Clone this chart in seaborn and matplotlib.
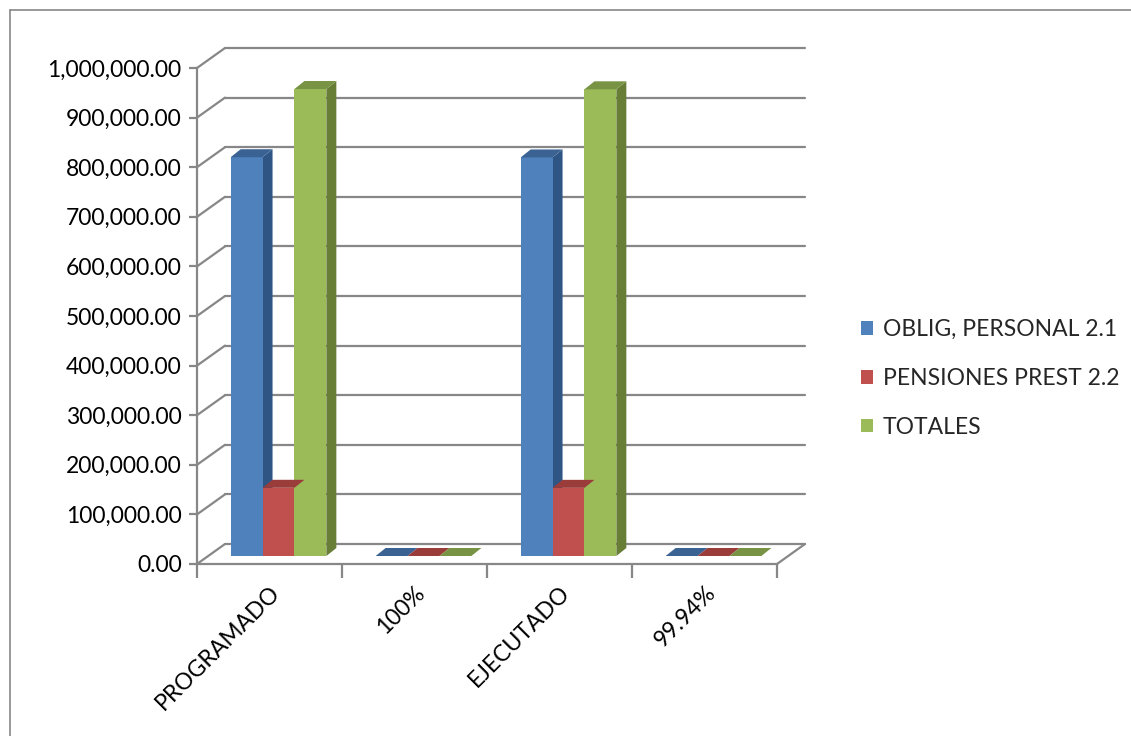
import numpy as np
import pandas as pd
import matplotlib
matplotlib.use("Agg")
import matplotlib.pyplot as plt
import matplotlib.transforms as mtransforms
from matplotlib.patches import Polygon
from matplotlib.lines import Line2D
import seaborn as sns

# datos
categorias = ["PROGRAMADO", "100%", "EJECUTADO", "99.94%"]
series = ["OBLIG, PERSONAL 2.1", "PENSIONES PREST 2.2", "TOTALES"]
oblig_personal = [804000, 1.0, 803500, 0.9994]
pensiones_prest = [137500, 1.0, 137400, 0.9994]
totales = [941500, 1.0, 940900, 0.9994]
yticks = np.arange(0, 1000001, 100000)

colores = ["#4F81BD", "#C0504D", "#9BBB59"]
lados = ["#2F5584", "#8C3836", "#687D35"]
techos = ["#3A6394", "#9A3D3A", "#779343"]
gris = "#878787"

df = pd.DataFrame({
    "cat": categorias * 3,
    "serie": np.repeat(series, 4),
    "val": oblig_personal + pensiones_prest + totales,
})

sns.set_theme(style="white")
plt.rcParams["font.family"] = ["Lato", "DejaVu Sans"]

fig = plt.figure(figsize=(11.31, 7.36), dpi=100)
ax = fig.add_axes([197 / 1131, 1 - 564 / 736, 580 / 1131, 496 / 736])

sns.barplot(data=df, x="cat", y="val", hue="serie", palette=colores,
            width=0.66, ax=ax, saturation=1, linewidth=0, zorder=3)
ax.set_xlim(-0.5, 3.5)
ax.set_ylim(0, 1000000)


def linea_diag(x, y):
    # linea de perspectiva desde el frente hacia la pared del fondo
    p0 = ax.transData.transform((x, y))
    ax.add_line(Line2D([p0[0], p0[0] + 28], [p0[1], p0[1] + 20], color=gris,
                       lw=1.6, transform=None, zorder=1, clip_on=False))


# pared del fondo con perspectiva (desplazamiento en pixeles)
fondo = mtransforms.offset_copy(ax.transData, fig, x=28, y=20, units="dots")
for v in yticks:
    ax.plot([-0.5, 3.5], [v, v], color=gris, lw=1.6, transform=fondo,
            clip_on=False, zorder=1)
    linea_diag(-0.5, v)
linea_diag(3.5, 0)

# caras laterales y superiores de las barras
frente = (9, 8)
atras = (19, 16)
handles, labels = ax.get_legend_handles_labels()
for k, cont in enumerate(ax.containers):
    for p in cont:
        x0, w, h = p.get_x(), p.get_width(), p.get_height()
        p.set_transform(mtransforms.offset_copy(ax.transData, fig, x=frente[0],
                                                y=frente[1], units="dots"))
        p.set_clip_on(False)
        a = ax.transData.transform((x0, h))
        b = ax.transData.transform((x0 + w, h))
        c = ax.transData.transform((x0 + w, 0))
        techo = [(a[0] + frente[0], a[1] + frente[1]), (b[0] + frente[0], b[1] + frente[1]),
                 (b[0] + atras[0], b[1] + atras[1]), (a[0] + atras[0], a[1] + atras[1])]
        lado = [(b[0] + frente[0], b[1] + frente[1]), (c[0] + frente[0], c[1] + frente[1]),
                (c[0] + atras[0], c[1] + atras[1]), (b[0] + atras[0], b[1] + atras[1])]
        ax.add_patch(Polygon(lado, closed=True, fc=lados[k], ec="none",
                             transform=None, zorder=2, clip_on=False))
        ax.add_patch(Polygon(techo, closed=True, fc=techos[k], ec="none",
                             transform=None, zorder=4, clip_on=False))

# ejes
sns.despine(ax=ax, top=True, right=True)
for s in ["left", "bottom"]:
    ax.spines[s].set_color(gris)
    ax.spines[s].set_linewidth(1.6)
ax.set_yticks(yticks)
ax.set_yticklabels([f"{v:,.2f}" for v in yticks], fontsize=16.5, color="black")
ax.tick_params(axis="y", length=6, width=1.6, color=gris, left=True, pad=5)
ax.set_xticks(range(4))
ax.set_xticklabels(categorias, fontsize=16.5, rotation=45, ha="right",
                   rotation_mode="anchor", color="black")
ax.tick_params(axis="x", which="major", length=0, pad=13)
ax.set_xticks([-0.5, 0.5, 1.5, 2.5, 3.5], minor=True)
ax.tick_params(axis="x", which="minor", length=10, width=1.6, color=gris,
               bottom=True)
ax.set_xlabel("")
ax.set_ylabel("")

ax.legend(handles, labels, loc="upper left", bbox_to_anchor=(852 / 1131, 1 - 310 / 736),
          bbox_transform=fig.transFigure, frameon=False, fontsize=16.5,
          handlelength=0.5, handleheight=0.5, handletextpad=0.45,
          labelspacing=1.22, borderaxespad=0)

# borde del area del grafico
fig.add_artist(Line2D([10 / 1131, 10 / 1131], [0, 1 - 10 / 736], color=gris,
                      lw=1.2, transform=fig.transFigure))
fig.add_artist(Line2D([10 / 1131, 1], [1 - 10 / 736, 1 - 10 / 736], color=gris,
                      lw=1.2, transform=fig.transFigure))

fig.savefig("out.png", dpi=100)
